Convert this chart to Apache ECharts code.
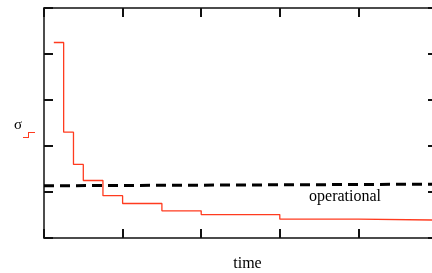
<!DOCTYPE html>
<html>
<head>
<meta charset="utf-8">
<script src="https://cdn.jsdelivr.net/npm/echarts@6/dist/echarts.min.js"></script>
<style>
  html, body { margin: 0; padding: 0; background: #fff; }
  #chart { width: 432px; height: 273px; }
</style>
</head>
<body>
<div id="chart"></div>
<script>
// step points: [time, sigma] — value holds until the next time
const stepTimes = [0.125, 0.25, 0.375, 0.5, 0.75, 1, 1.5, 2, 3, 4, 5]
const stepSigma = [4.25, 2.3, 1.6, 1.25, 0.92, 0.75, 0.59, 0.51, 0.41, 0.39, 0.39]
// operational level (dashed)
const opTimes = [0, 5]
const opLevel = [1.135, 1.17]
const opLabelAt = [3.83, 0.89]

const chart = echarts.init(document.getElementById('chart'))

const serif = 'Liberation Serif'
const red = '#ff3b1f'

const axisCommon = {
  type: 'value',
  min: 0,
  max: 5,
  interval: 1,
  axisLine: { show: true, onZero: false, lineStyle: { color: '#111', width: 1.5 } },
  axisTick: { show: true, inside: true, length: 9, lineStyle: { color: '#111', width: 2 } },
  axisLabel: { show: false },
  splitLine: { show: false }
}

const option = {
  animation: false,
  grid: { left: 44, top: 8, right: -5, bottom: 35, containLabel: false, outerBoundsMode: 'none' },
  // little step icon next to the sigma label
  legend: {
    data: ['σ'],
    left: 18,
    top: 127,
    icon: 'path://M0,5 L5,5 L5,0 L12,0 L12,1 L6,1 L6,6 L0,6 Z',
    itemWidth: 12,
    itemHeight: 6,
    formatter: () => '',
    textStyle: { fontSize: 6, padding: 0 }
  },
  xAxis: [
    {
      ...axisCommon,
      position: 'bottom',
      name: 'time',
      nameLocation: 'middle',
      nameGap: 18,
      nameTextStyle: { fontFamily: serif, fontSize: 16, color: '#000', padding: [0, 0, 0, 14] }
    },
    { ...axisCommon, position: 'top' }
  ],
  yAxis: [
    {
      ...axisCommon,
      position: 'left',
      name: 'σ',
      nameLocation: 'middle',
      nameRotate: 0,
      nameGap: 22,
      nameTextStyle: { fontFamily: serif, fontSize: 15, color: '#000', verticalAlign: 'top', lineHeight: 4 }
    },
    { ...axisCommon, position: 'right' }
  ],
  series: [
    {
      name: 'σ',
      type: 'line',
      step: 'end',
      showSymbol: false,
      lineStyle: { color: red, width: 1.3 },
      itemStyle: { color: red },
      data: stepTimes.map((t, i) => [t, stepSigma[i]])
    },
    {
      name: 'operational',
      type: 'line',
      showSymbol: false,
      lineStyle: { color: '#000', width: 3, type: [10, 6] },
      data: opTimes.map((t, i) => [t, opLevel[i]]),
      markPoint: {
        symbol: 'circle',
        symbolSize: 0,
        label: {
          show: true,
          position: 'inside',
          formatter: 'operational',
          fontFamily: serif,
          fontSize: 16,
          color: '#000'
        },
        data: [{ coord: opLabelAt }]
      }
    }
  ]
}

chart.setOption(option)
</script>
</body>
</html>
